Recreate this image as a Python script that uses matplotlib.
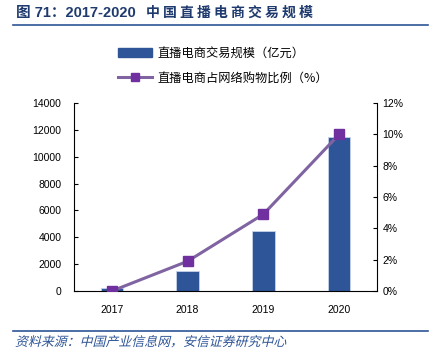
import matplotlib
matplotlib.use("Agg")
import matplotlib.pyplot as plt
from matplotlib.lines import Line2D
from matplotlib.patches import Patch, PathPatch
from matplotlib.textpath import TextPath
from matplotlib.font_manager import FontProperties
from matplotlib.transforms import Affine2D

plt.rcParams['font.family'] = ['Liberation Sans', 'Noto Sans CJK SC', 'DejaVu Sans']

years = ["2017", "2018", "2019", "2020"]
gmv = [196, 1470, 4440, 11480]          # 直播电商交易规模（亿元）
share = [0.0, 1.9, 4.9, 10.0]           # 直播电商占网络购物比例（%）
left_ticks = [0, 2000, 4000, 6000, 8000, 10000, 12000, 14000]
right_ticks = [0, 2, 4, 6, 8, 10, 12]

bar_label = "直播电商交易规模（亿元）"
line_label = "直播电商占网络购物比例（%）"
title_head = "图 71：2017-2020"
title_tail = "中国直播电商交易规模"
source = "资料来源：中国产业信息网，安信证券研究中心"

W, H = 430, 357
DPI = 100
fig = plt.figure(figsize=(W/DPI, H/DPI), dpi=DPI)
ax = fig.add_axes([74/W, 1-291/H, (377-74)/W, (291-103)/H])
x = list(range(len(years)))

ax.bar(x, gmv, width=0.3, color="#2E5597", edgecolor="#C5D3EA", linewidth=0.6, zorder=2)
ax.set_xlim(-0.5, 3.5)
ax.set_ylim(0, 14000)
ax.set_yticks(left_ticks)
ax.set_yticklabels([str(v) for v in left_ticks])
ax.set_xticks(x)
ax.set_xticklabels(years)
ax.tick_params(axis='y', direction='in', length=3, labelsize=7.5, pad=9, width=0.8)
ax.tick_params(axis='x', length=0, labelsize=7.5, pad=10)
for s in ['top', 'right']:
    ax.spines[s].set_visible(False)
ax.spines['left'].set_linewidth(0.8)
ax.spines['bottom'].set_linewidth(0.8)

ax2 = ax.twinx()
ax2.plot(x, share, color="#8064A2", linewidth=2.2, marker='s', markersize=7,
         markerfacecolor="#7030A0", markeredgecolor="#7030A0", zorder=3)
ax2.set_ylim(0, 12)
ax2.set_yticks(right_ticks)
ax2.set_yticklabels([f"{v}%" for v in right_ticks])
ax2.tick_params(axis='y', direction='in', length=3, labelsize=7.5, pad=4, width=0.8)
for s in ['top', 'left', 'bottom']:
    ax2.spines[s].set_visible(False)
ax2.spines['right'].set_linewidth(0.8)

handles = [Patch(facecolor="#2E5597", edgecolor="#2E5597"),
           Line2D([0], [0], color="#8064A2", linewidth=2.2, marker='s', markersize=6,
                  markerfacecolor="#7030A0", markeredgecolor="#7030A0")]
fig.legend(handles, [bar_label, line_label], loc='upper left',
           bbox_to_anchor=(107/W, 1-36/H), frameon=False,
           prop={'family': ['Noto Sans CJK SC'], 'size': 8.8},
           handlelength=2.8, handleheight=0.8, handletextpad=0.4, labelspacing=0.95)

# title: head then letter-spaced Chinese part
fig.text(16/W, 1-13/H, title_head, fontsize=10.5, fontweight='bold', color="#1F3A6E",
         va='center', ha='left', family=['Liberation Sans', 'Noto Sans CJK SC'])
fig.text(146/W, 1-13/H, " ".join(title_tail), fontsize=10, fontweight='bold', color="#1F3A6E",
         va='center', ha='left', family=['Noto Sans CJK SC', 'DejaVu Sans'])

fig.add_artist(Line2D([13/W, 428/W], [1-25/H, 1-25/H], color="#2E5597", linewidth=1.2))
fig.add_artist(Line2D([13/W, 428/W], [1-331/H, 1-331/H], color="#2E5597", linewidth=1.2))

# italic-looking source line (skewed text path)
fp = FontProperties(family=['Noto Sans CJK SC'], size=9.3)
tp = TextPath((0, 0), source, prop=fp)
tr = Affine2D().skew_deg(14, 0).scale(DPI/72).translate(15, H - 346)
patch = PathPatch(tp, facecolor="#2E5597", edgecolor='none')
patch.set_transform(tr)
fig.add_artist(patch)

fig.savefig("out.png", dpi=DPI)
